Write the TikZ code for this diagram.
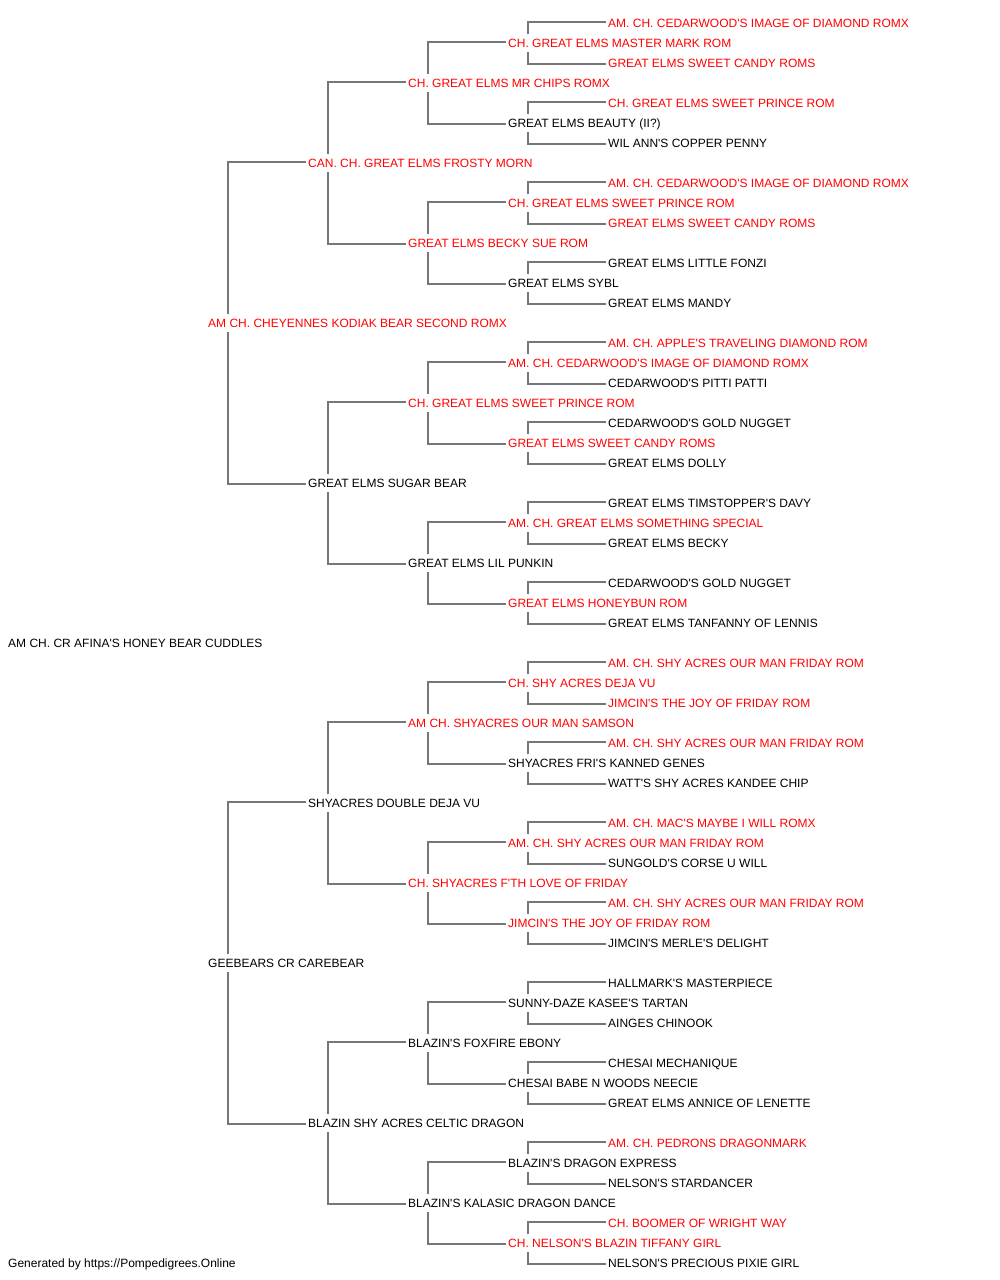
\documentclass[tikz,border=0pt]{standalone}
\usepackage{fontspec}
\setmainfont{Liberation Sans}[Ligatures=TeXOff]
\usetikzlibrary{backgrounds}
\definecolor{lnk}{HTML}{777777}
\definecolor{rd}{HTML}{FF0000}
\begin{document}
\begin{tikzpicture}[x=1pt,y=-1pt,
  nm/.style={anchor=west,inner xsep=2pt,inner ysep=4.5pt,text height=8.3pt,text depth=0pt,fill=white,font=\fontsize{12pt}{14pt}\selectfont,text=black},
  rn/.style={nm,text=rd},
  conn/.style={draw=lnk,line width=1.4pt}]
\useasboundingbox (0,0) rectangle (1000,1280);
% gen x: g0=6, g1=206, g2=306, g3=406, g4=506, g5=606 ; row y = 23+20i
\node[rn] (n0) at (606,23) {AM. CH. CEDARWOOD'S IMAGE OF DIAMOND ROMX};
\node[rn] (n1) at (506,43) {CH. GREAT ELMS MASTER MARK ROM};
\node[rn] (n2) at (606,63) {GREAT ELMS SWEET CANDY ROMS};
\node[rn] (n3) at (406,83) {CH. GREAT ELMS MR CHIPS ROMX};
\node[rn] (n4) at (606,103) {CH. GREAT ELMS SWEET PRINCE ROM};
\node[nm] (n5) at (506,123) {GREAT ELMS BEAUTY (II?)};
\node[nm] (n6) at (606,143) {WIL ANN'S COPPER PENNY};
\node[rn] (n7) at (306,163) {CAN. CH. GREAT ELMS FROSTY MORN};
\node[rn] (n8) at (606,183) {AM. CH. CEDARWOOD'S IMAGE OF DIAMOND ROMX};
\node[rn] (n9) at (506,203) {CH. GREAT ELMS SWEET PRINCE ROM};
\node[rn] (n10) at (606,223) {GREAT ELMS SWEET CANDY ROMS};
\node[rn] (n11) at (406,243) {GREAT ELMS BECKY SUE ROM};
\node[nm] (n12) at (606,263) {GREAT ELMS LITTLE FONZI};
\node[nm] (n13) at (506,283) {GREAT ELMS SYBL};
\node[nm] (n14) at (606,303) {GREAT ELMS MANDY};
\node[rn] (n15) at (206,323) {AM CH. CHEYENNES KODIAK BEAR SECOND ROMX};
\node[rn] (n16) at (606,343) {AM. CH. APPLE'S TRAVELING DIAMOND ROM};
\node[rn] (n17) at (506,363) {AM. CH. CEDARWOOD'S IMAGE OF DIAMOND ROMX};
\node[nm] (n18) at (606,383) {CEDARWOOD'S PITTI PATTI};
\node[rn] (n19) at (406,403) {CH. GREAT ELMS SWEET PRINCE ROM};
\node[nm] (n20) at (606,423) {CEDARWOOD'S GOLD NUGGET};
\node[rn] (n21) at (506,443) {GREAT ELMS SWEET CANDY ROMS};
\node[nm] (n22) at (606,463) {GREAT ELMS DOLLY};
\node[nm] (n23) at (306,483) {GREAT ELMS SUGAR BEAR};
\node[nm] (n24) at (606,503) {GREAT ELMS TIMSTOPPER'S DAVY};
\node[rn] (n25) at (506,523) {AM. CH. GREAT ELMS SOMETHING SPECIAL};
\node[nm] (n26) at (606,543) {GREAT ELMS BECKY};
\node[nm] (n27) at (406,563) {GREAT ELMS LIL PUNKIN};
\node[nm] (n28) at (606,583) {CEDARWOOD'S GOLD NUGGET};
\node[rn] (n29) at (506,603) {GREAT ELMS HONEYBUN ROM};
\node[nm] (n30) at (606,623) {GREAT ELMS TANFANNY OF LENNIS};
\node[nm] (n31) at (6,643) {AM CH. CR AFINA'S HONEY BEAR CUDDLES};
\node[rn] (n32) at (606,663) {AM. CH. SHY ACRES OUR MAN FRIDAY ROM};
\node[rn] (n33) at (506,683) {CH. SHY ACRES DEJA VU};
\node[rn] (n34) at (606,703) {JIMCIN'S THE JOY OF FRIDAY ROM};
\node[rn] (n35) at (406,723) {AM CH. SHYACRES OUR MAN SAMSON};
\node[rn] (n36) at (606,743) {AM. CH. SHY ACRES OUR MAN FRIDAY ROM};
\node[nm] (n37) at (506,763) {SHYACRES FRI'S KANNED GENES};
\node[nm] (n38) at (606,783) {WATT'S SHY ACRES KANDEE CHIP};
\node[nm] (n39) at (306,803) {SHYACRES DOUBLE DEJA VU};
\node[rn] (n40) at (606,823) {AM. CH. MAC'S MAYBE I WILL ROMX};
\node[rn] (n41) at (506,843) {AM. CH. SHY ACRES OUR MAN FRIDAY ROM};
\node[nm] (n42) at (606,863) {SUNGOLD'S CORSE U WILL};
\node[rn] (n43) at (406,883) {CH. SHYACRES F'TH LOVE OF FRIDAY};
\node[rn] (n44) at (606,903) {AM. CH. SHY ACRES OUR MAN FRIDAY ROM};
\node[rn] (n45) at (506,923) {JIMCIN'S THE JOY OF FRIDAY ROM};
\node[nm] (n46) at (606,943) {JIMCIN'S MERLE'S DELIGHT};
\node[nm] (n47) at (206,963) {GEEBEARS CR CAREBEAR};
\node[nm] (n48) at (606,983) {HALLMARK'S MASTERPIECE};
\node[nm] (n49) at (506,1003) {SUNNY-DAZE KASEE'S TARTAN};
\node[nm] (n50) at (606,1023) {AINGES CHINOOK};
\node[nm] (n51) at (406,1043) {BLAZIN'S FOXFIRE EBONY};
\node[nm] (n52) at (606,1063) {CHESAI MECHANIQUE};
\node[nm] (n53) at (506,1083) {CHESAI BABE N WOODS NEECIE};
\node[nm] (n54) at (606,1103) {GREAT ELMS ANNICE OF LENETTE};
\node[nm] (n55) at (306,1123) {BLAZIN SHY ACRES CELTIC DRAGON};
\node[rn] (n56) at (606,1143) {AM. CH. PEDRONS DRAGONMARK};
\node[nm] (n57) at (506,1163) {BLAZIN'S DRAGON EXPRESS};
\node[nm] (n58) at (606,1183) {NELSON'S STARDANCER};
\node[nm] (n59) at (406,1203) {BLAZIN'S KALASIC DRAGON DANCE};
\node[rn] (n60) at (606,1223) {CH. BOOMER OF WRIGHT WAY};
\node[rn] (n61) at (506,1243) {CH. NELSON'S BLAZIN TIFFANY GIRL};
\node[nm] (n62) at (606,1263) {NELSON'S PRECIOUS PIXIE GIRL};
\node[nm] (footer) at (6,1263) {Generated by https://Pompedigrees.Online};
\begin{pgfonlayer}{background}
\foreach \p/\u/\l in {15/7/23,47/39/55,
  7/3/11,23/19/27,39/35/43,55/51/59,
  3/1/5,11/9/13,19/17/21,27/25/29,35/33/37,43/41/45,51/49/53,59/57/61,
  1/0/2,5/4/6,9/8/10,13/12/14,17/16/18,21/20/22,25/24/26,29/28/30,
  33/32/34,37/36/38,41/40/42,45/44/46,49/48/50,53/52/54,57/56/58,61/60/62}
  \draw[conn] ([yshift=1pt]n\u.west) -| ([xshift=22pt]n\p.west) |- ([yshift=-1pt]n\l.west);
\end{pgfonlayer}
\end{tikzpicture}
\end{document}
